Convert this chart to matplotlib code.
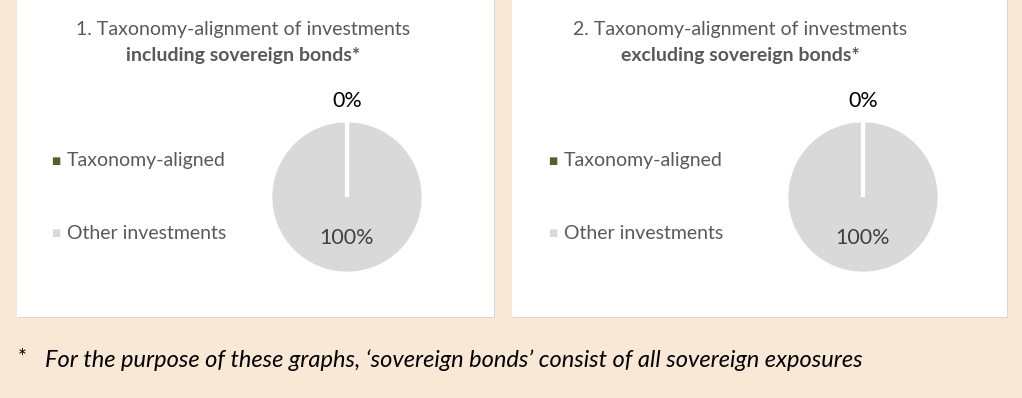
import numpy as np
import matplotlib.pyplot as plt
from matplotlib.patches import Rectangle

# -- Data
categories   = ["Taxonomy-aligned", "Other investments"]
share_incl   = [0, 100]   # incl. sovereign bonds, %
share_excl   = [0, 100]   # excl. sovereign bonds, %
titles       = ["1. Taxonomy-alignment of investments",
                "2. Taxonomy-alignment of investments"]
subtitles    = ["including sovereign bonds*", "excluding sovereign bonds*"]
footnote     = "For the purpose of these graphs, \u2018sovereign bonds\u2019 consist of all sovereign exposures"

colors   = ["#4F6228", "#D9D9D9"]
bg       = "#FAE8D7"
txt_grey = "#595959"

plt.rcParams['font.family'] = ['Lato', 'DejaVu Sans']

W, H = 1022, 398
fig = plt.figure(figsize=(W/100, H/100), dpi=100, facecolor=bg)

def fx(px): return px/W
def fy(py): return 1 - py/H

# -- Panels: (left, right, title centre, pie centre x, legend x)
panels = [(17, 494, 243, 347, 56),
          (512, 1007, 740, 863, 553)]
pie_cy, pie_r = 197, 75

for (x0, x1, tc, pcx, lx), title, sub, vals in zip(panels, titles, subtitles,
                                                   [share_incl, share_excl]):
    # white card with faint grey edge
    fig.patches.append(Rectangle((fx(x0+1), fy(318)), fx(x1-x0), 318/H,
                                 transform=fig.transFigure, facecolor="#D6D6D6",
                                 edgecolor="none", zorder=-2))
    fig.patches.append(Rectangle((fx(x0), fy(317)), fx(x1-x0), 317/H,
                                 transform=fig.transFigure, facecolor="white",
                                 edgecolor="none", zorder=-1))

    fig.text(fx(tc), fy(30), title, ha="center", va="center",
             fontsize=14, color=txt_grey)
    fig.text(fx(tc), fy(55), sub, ha="center", va="center",
             fontsize=14, color=txt_grey, fontweight="bold")

    # legend
    for cat, col, ly in zip(categories, colors, [161, 233]):
        fig.text(fx(lx), fy(ly), "\u25A0", ha="center", va="center",
                 fontsize=7, color=col, family=['DejaVu Sans'])
        fig.text(fx(lx+11), fy(ly), cat, ha="left", va="center",
                 fontsize=14, color=txt_grey)

    ax = fig.add_axes([fx(pcx-pie_r), fy(pie_cy+pie_r), fx(2*pie_r), 2*pie_r/H])
    wedges, _ = ax.pie(vals, colors=colors, startangle=90, counterclock=False,
                       wedgeprops=dict(edgecolor="white", linewidth=0.5))
    ax.set_xlim(-1, 1)
    ax.set_ylim(-1, 1)
    ax.set_aspect("equal")
    ax.axis("off")

    # white slice borders (a full-circle wedge draws no radial edge)
    for w in wedges:
        a = np.deg2rad(w.theta2)
        ax.plot([0, np.cos(a)], [0, np.sin(a)], color="white", lw=3,
                solid_capstyle="butt")

    # data labels: small slices outside, large inside
    for w, v in zip(wedges, vals):
        ang = np.deg2rad((w.theta1 + w.theta2)/2)
        d = 1.28 if v < 5 else 0.55
        ax.text(d*np.cos(ang), d*np.sin(ang), f"{v:.0f}%", ha="center",
                va="center", fontsize=15.5,
                color="black" if v < 5 else "#404040", clip_on=False)

fig.text(fx(22), fy(358), "*", ha="center", va="center", fontsize=15, color="black")
fig.text(fx(45), fy(360), footnote, ha="left", va="center", fontsize=17,
         style="italic", color="black")

fig.savefig("out.png", dpi=100, facecolor=bg)
